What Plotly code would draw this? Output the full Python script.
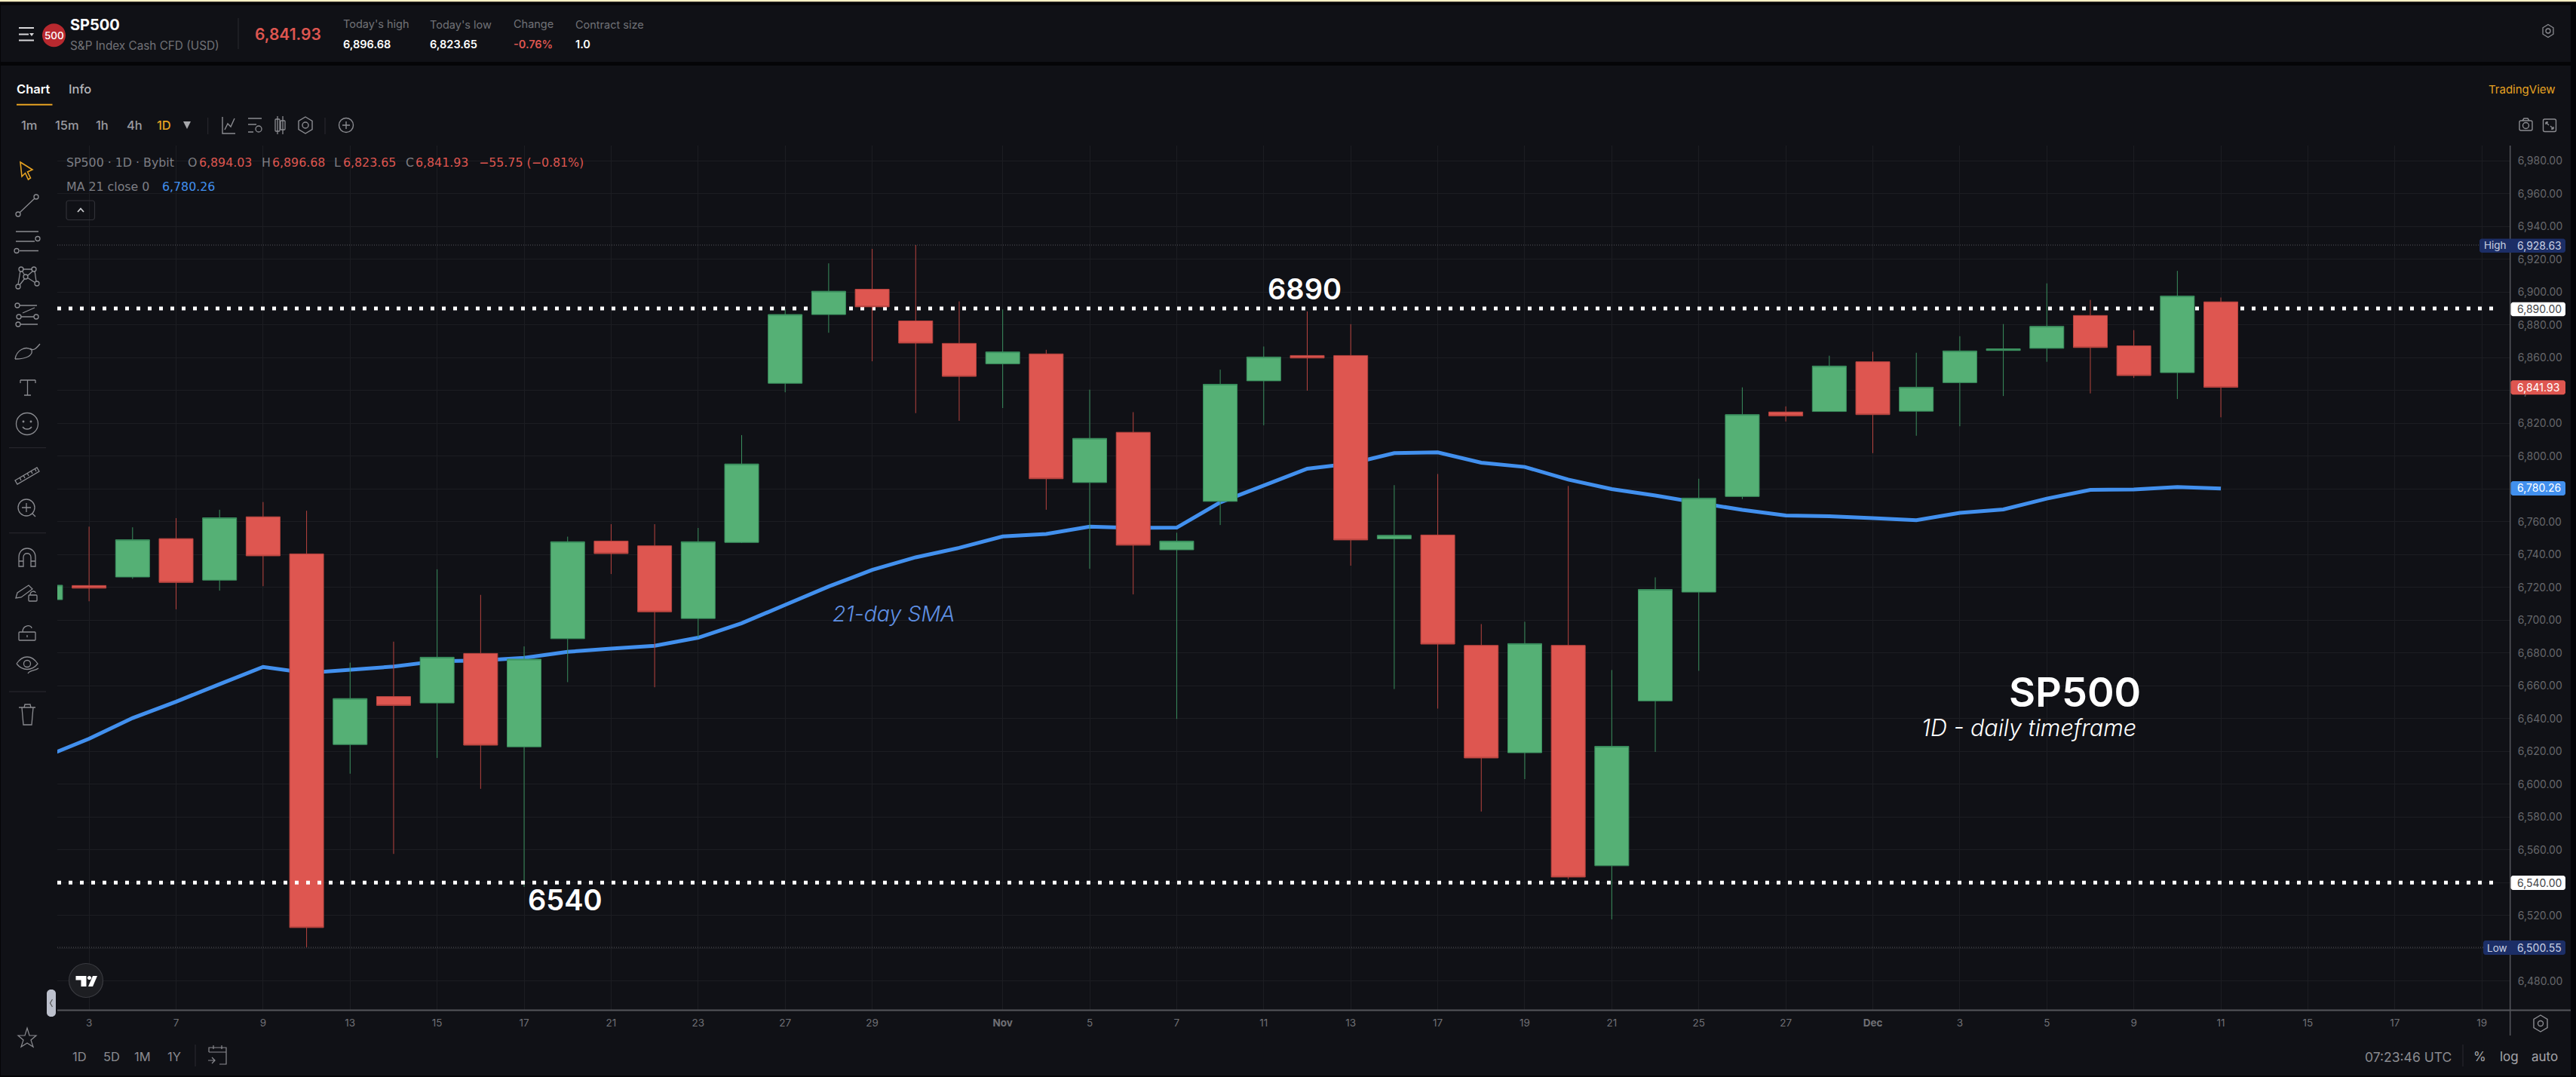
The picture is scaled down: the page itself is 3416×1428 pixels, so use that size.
import re
import plotly.graph_objects as go

# ---------- data ----------
bar_index = [i for i in range(51)]
opens = [6712.5, 6721.1, 6726.3, 6749.7, 6724.4, 6763.0, 6740.4, 6624.2, 6653.4, 6649.5, 6679.7, 6622.8, 6688.7,
         6748.2, 6745.3, 6701.0, 6747.4, 6844.4, 6886.3, 6901.7, 6882.4, 6868.7, 6856.3, 6862.3, 6783.9, 6814.5,
         6742.9, 6772.4, 6845.9, 6861.3, 6861.3, 6749.6, 6751.9, 6684.6, 6619.2, 6684.6, 6550.3, 6650.8, 6717.1,
         6775.4, 6826.9, 6827.2, 6857.5, 6827.4, 6844.8, 6864.4, 6865.7, 6885.7, 6867.2, 6850.9, 6894.03]
highs = [6723.0, 6757.0, 6756.6, 6762.2, 6767.3, 6772.0, 6766.7, 6674.1, 6686.9, 6731.0, 6715.4, 6684.0, 6750.9,
         6758.5, 6758.5, 6756.2, 6812.8, 6889.5, 6917.5, 6926.3, 6928.63, 6894.3, 6889.4, 6864.8, 6840.5, 6826.8,
         6753.3, 6852.7, 6866.8, 6888.2, 6880.4, 6782.3, 6789.1, 6697.6, 6699.0, 6781.8, 6669.6, 6726.1, 6786.2,
         6841.9, 6830.3, 6861.2, 6863.6, 6863.0, 6873.1, 6880.5, 6905.3, 6895.2, 6876.8, 6912.9, 6896.68]
lows = [6711.0, 6711.5, 6725.2, 6706.6, 6718.0, 6720.7, 6500.55, 6606.4, 6557.5, 6616.0, 6597.2, 6537.4, 6662.2,
        6728.1, 6659.1, 6689.3, 6747.0, 6838.9, 6875.2, 6857.8, 6826.2, 6821.5, 6829.3, 6767.3, 6731.3, 6715.7,
        6639.8, 6758.0, 6818.8, 6839.9, 6733.2, 6658.0, 6646.1, 6583.3, 6603.1, 6542.1, 6517.6, 6619.7, 6669.1,
        6773.8, 6821.1, 6827.0, 6801.8, 6812.4, 6818.2, 6836.6, 6857.5, 6838.2, 6847.7, 6834.8, 6823.65]
closes = [6721.3, 6719.5, 6749.0, 6723.0, 6762.4, 6739.2, 6512.6, 6652.2, 6648.0, 6677.4, 6623.8, 6676.2, 6747.8,
          6740.6, 6705.1, 6747.8, 6795.2, 6886.3, 6900.5, 6891.0, 6868.9, 6848.6, 6863.5, 6786.2, 6810.8, 6745.7,
          6748.2, 6843.8, 6860.4, 6859.8, 6748.9, 6751.7, 6685.4, 6616.0, 6685.7, 6543.4, 6623.1, 6718.7, 6774.4,
          6825.3, 6824.5, 6854.9, 6825.3, 6842.0, 6864.1, 6865.4, 6879.1, 6866.2, 6849.1, 6897.6, 6841.93]
sma21 = [6616.9, 6627.7, 6640.3, 6650.3, 6661.0, 6671.5, 6667.8, 6670.0, 6671.7, 6675.0, 6675.4, 6677.0, 6680.7,
         6682.7, 6684.4, 6689.3, 6698.1, 6709.3, 6720.5, 6730.6, 6738.3, 6744.1, 6751.0, 6752.5, 6757.0, 6756.2,
         6756.4, 6771.8, 6782.1, 6792.3, 6795.4, 6801.8, 6802.3, 6796.0, 6793.4, 6785.7, 6779.9, 6776.0, 6771.5,
         6767.2, 6763.8, 6763.3, 6762.2, 6760.9, 6765.4, 6767.5, 6774.1, 6779.4, 6779.7, 6781.2, 6780.26]
tick_pos = [1, 3, 5, 7, 9, 11, 13, 15, 17, 19, 22, 24, 26, 28, 30, 32, 34, 36, 38, 40, 42, 44, 46, 48, 50, 52, 54, 56]
tick_text = ["3", "7", "9", "13", "15", "17", "21", "23", "27", "29", "<b>Nov</b>", "5", "7", "11", "13", "17", "19",
             "21", "25", "27", "<b>Dec</b>", "3", "5", "9", "11", "15", "17", "19"]
price_ticks = [6480, 6500, 6520, 6540, 6560, 6580, 6600, 6620, 6640, 6660, 6680, 6700, 6720, 6740, 6760, 6780, 6800,
               6820, 6840, 6860, 6880, 6900, 6920, 6940, 6960, 6980]
level_upper = 6890
level_lower = 6540
session_high = 6928.63
session_low = 6500.55

# ---------- page geometry ----------
W, H = 3416, 1428
PL, PR, PT, PB = 76, 3328.7, 193, 1339.5
XR = [0.27, 56.65]
YR = [6462.2, 6989.3]

BG = "#101116"
GRID = "#1c1d22"
RED = "#DE5650"
GREEN = "#55B075"
BLUE = "#4290EE"
GRAY = "#7d7e84"
ICON = "#8b8c91"
FONT = "Inter"
LEGEND_FONT = "DejaVu Sans"


def fx(x):
    return x / W


def fy(y):
    return 1 - y / H


def conv(path):
    """pixel path (M/L/C/Z, absolute) -> paper path"""
    out = []
    for cmd, body in re.findall(r"([MLCZ])([^MLCZ]*)", path):
        nums = [float(n) for n in body.split()]
        pairs = [f"{fx(nums[i]):.6f},{fy(nums[i + 1]):.6f}" for i in range(0, len(nums), 2)]
        out.append(cmd + " ".join(pairs))
    return " ".join(out)


def circ(cx, cy, rx, ry=None):
    ry = ry or rx
    k = 0.5523
    return (f"M{cx - rx} {cy} C{cx - rx} {cy - k * ry} {cx - k * rx} {cy - ry} {cx} {cy - ry} "
            f"C{cx + k * rx} {cy - ry} {cx + rx} {cy - k * ry} {cx + rx} {cy} "
            f"C{cx + rx} {cy + k * ry} {cx + k * rx} {cy + ry} {cx} {cy + ry} "
            f"C{cx - k * rx} {cy + ry} {cx - rx} {cy + k * ry} {cx - rx} {cy} Z ")


def rrect(x0, y0, x1, y1, r=3):
    return (f"M{x0 + r} {y0} L{x1 - r} {y0} C{x1 - r / 2} {y0} {x1} {y0 + r / 2} {x1} {y0 + r} "
            f"L{x1} {y1 - r} C{x1} {y1 - r / 2} {x1 - r / 2} {y1} {x1 - r} {y1} "
            f"L{x0 + r} {y1} C{x0 + r / 2} {y1} {x0} {y1 - r / 2} {x0} {y1 - r} "
            f"L{x0} {y0 + r} C{x0} {y0 + r / 2} {x0 + r / 2} {y0} {x0 + r} {y0} Z ")


def hexa(cx, cy, r):
    return (f"M{cx} {cy - r} L{cx + r * .82} {cy - r * .5} L{cx + r * .82} {cy + r * .5} L{cx} {cy + r} "
            f"L{cx - r * .82} {cy + r * .5} L{cx - r * .82} {cy - r * .5} Z ")


shapes = []


def fill(path, color, layer="above", line=None, lw=0):
    shapes.append(dict(type="path", path=conv(path), xref="paper", yref="paper", fillcolor=color, layer=layer,
                       line=dict(color=line or color, width=lw)))


def stroke(path, color=ICON, lw=1.3):
    shapes.append(dict(type="path", path=conv(path), xref="paper", yref="paper", layer="above",
                       line=dict(color=color, width=lw)))


def rect(x0, y0, x1, y1, color, layer="below"):
    shapes.append(dict(type="rect", xref="paper", yref="paper", x0=fx(x0), x1=fx(x1), y0=fy(y0), y1=fy(y1),
                       fillcolor=color, line=dict(width=0), layer=layer))


def seg(x0, y0, x1, y1, color, lw=1.0):
    shapes.append(dict(type="line", xref="paper", yref="paper", x0=fx(x0), x1=fx(x1), y0=fy(y0), y1=fy(y1),
                       line=dict(color=color, width=lw), layer="above"))


annos = []


def txt(x, y, s, size=15, color=GRAY, anchor="left", weight=400, italic=False, family=FONT):
    annos.append(dict(x=fx(x), y=fy(y), xref="paper", yref="paper", text=s, showarrow=False, xanchor=anchor,
                      yanchor="middle", borderpad=0, borderwidth=0,
                      font=dict(size=size, color=color, family=family, weight=weight,
                                style="italic" if italic else "normal")))


# ---------- panels ----------
rect(0, 0, W, 2.3, "#FDF0C4", "above")
rect(1, 7, 3409, 82, BG)
rect(1, 87, 3409, 1426, BG)

# header
stroke("M25 37 L45 37 M25 45.5 L38 45.5 M25 53.5 L45 53.5", "#d8d8da", 2)
fill("M39 44 L45 44 L42 48 Z", "#d8d8da")
fill(circ(71.5, 46.7, 15.5), "#B8292F")
txt(71.5, 46.7, "500", 13.5, "#ffffff", "center", 500)
txt(93, 33, "SP500", 20, "#ffffff", weight=700)
txt(93, 61, "S&P Index Cash CFD (USD)", 15.3, "#707177")
seg(316, 24, 316, 65, "#26272c", 1.2)
txt(338, 45, "6,841.93", 21, RED, weight=600)
for x, label, value, col in [(454.6, "Today's high", "6,896.68", "#ffffff"), (570.3, "Today's low", "6,823.65", "#ffffff"),
                             (681.2, "Change", "-0.76%", RED), (762.5, "Contract size", "1.0", "#ffffff")]:
    txt(x, 32, label, 14.5, "#707177")
    txt(x, 58.5, value, 14.5, col, weight=600)
stroke(hexa(3379, 41, 8.5) + circ(3379, 41, 3), ICON, 1.3)

# tabs
txt(22, 117.5, "Chart", 16.5, "#ffffff", weight=600)
txt(91, 117.5, "Info", 16.5, "#b5b6ba", weight=500)
rect(22, 137.8, 69.5, 139.8, "#E6A222", "above")
txt(3389, 118, "TradingView", 15, "#E6A222", "right")

# timeframe row
for x, s, col in [(28, "1m", "#9a9ba0"), (73, "15m", "#9a9ba0"), (127, "1h", "#9a9ba0"), (168, "4h", "#9a9ba0"),
                  (208, "1D", "#E6A222")]:
    txt(x, 166, s, 16.5, col, weight=500)
fill("M243 161 L253 161 L248 171 Z", "#a6a7ab")
seg(275.7, 156, 275.7, 178, "#2a2b30", 1)
seg(431, 156, 431, 178, "#2a2b30", 1)
stroke("M295 155 L295 177 L312 177 M298 172 L302 164 L306 168 L311 157", ICON, 1.4)
stroke("M329 157 L347 157 M329 165 L340 165 M329 175 L336 175 " + circ(343, 171, 4), ICON, 1.3)
stroke(rrect(365, 158, 371, 174, 1) + "M368 154 L368 178 M375 154 L375 178 " + rrect(372, 160, 378, 172, 1), ICON, 1.3)
stroke(hexa(405, 166, 11) + circ(405, 166, 4), ICON, 1.4)
stroke(circ(459, 166, 9.5) + "M454 166 L464 166 M459 161 L459 171", ICON, 1.4)
stroke(rrect(3341, 160, 3358, 173, 2) + circ(3349.5, 166.5, 4) + "M3345 160 L3347 157 L3352 157 L3354 160", ICON, 1.4)
stroke(rrect(3372.5, 158, 3389.5, 174.5, 2) + "M3376 162 L3380 166 M3376 162 L3379 162 M3376 162 L3376 165 "
       "M3386 171 L3382 167 M3386 171 L3383 171 M3386 171 L3386 168", ICON, 1.4)

# legend
LG = 15.8
txt(87.7, 215, "SP500 · 1D · Bybit", LG, GRAY, family=LEGEND_FONT)
for x, s in [(249, "O"), (346.5, "H"), (443.3, "L"), (538, "C")]:
    txt(x, 215, s, LG, GRAY, family=LEGEND_FONT)
for x, s in [(263.8, "6,894.03"), (360.6, "6,896.68"), (454.6, "6,823.65"), (551.4, "6,841.93"),
             (634.9, "−55.75 (−0.81%)")]:
    txt(x, 215, s, LG, RED, family=LEGEND_FONT)
txt(87.7, 247, "MA 21 close 0", LG, GRAY, family=LEGEND_FONT)
txt(214.7, 247, "6,780.26", LG, BLUE, family=LEGEND_FONT)
stroke(rrect(88, 266, 125.5, 291.5, 3), "#303137", 1.2)
stroke("M103 281 L107 276.5 L111 281", "#c8c9cc", 1.8)

# left toolbar
fill("M27 215 L43 225 L36.5 228 L40.5 236 L37.5 238 L33.5 229.5 L29 234 Z", BG, line="#E6A222", lw=1.6)
stroke(circ(24, 284, 3) + circ(48, 261, 3) + "M26 282 L46 263")
stroke("M21 307 L51 307 M21 320 L46 320 M26 332.5 L51 332.5 " + circ(50, 316.5, 3) + circ(22, 332.5, 3))
stroke(circ(28, 357, 3) + circ(45, 357, 3) + circ(34, 367, 3) + circ(24, 380, 3) + circ(49, 376, 3) +
       "M29 359 L33 365 M30 357 L43 357 M36 366 L44 359 M36 368 L47 375 M26 378 L33 369 M46 359 L48 373 M27 359 L24 377")
stroke(circ(23, 405, 3) + circ(25, 420, 3) + circ(24, 430, 3) + circ(48, 420, 3) + "M26 405 L49 405 M28 420 L45 420 "
       "M27 430 L50 430 M30 415 L46 408")
stroke("M20 476 C22 464 34 458 42 464 C44 472 34 476 20 476 M40 462 C44 466 48 462 53 456")
stroke("M27 504 L47 504 M36.5 504 L36.5 524 M27 504 L27 508 M47 504 L47 508 M32 524 L41 524")
stroke(circ(36, 562, 14.5) + circ(31, 559, .8) + circ(41, 559, .8) + "M30 566 C33 570 39 570 42 566")
seg(12, 593.7, 61, 593.7, "#2a2b30", 1)
stroke("M20 637 L49 620 L52 625 L23 642 Z M26 633 L28 637 M31 630 L33 634 M36 627 L38 631 M41 624 L43 628 M46 621 L48 625")
stroke(circ(35, 673, 11) + "M29 673 L41 673 M35 667 L35 679 M43 681 L47 685")
seg(12, 706.7, 61, 706.7, "#2a2b30", 1)
stroke("M25 751 L25 739 C25 723 47 723 47 739 L47 751 L41 751 L41 739 C41 732 31 732 31 739 L31 751 Z M25 744 L31 744 M41 744 L47 744")
stroke("M21 793 L23 786 L38 776 L43 781 L28 792 Z " + rrect(38, 789, 49, 797, 1) + "M40 789 C40 783 47 783 47 786")
stroke(rrect(25, 838, 47, 849, 1) + "M30 838 C30 828 42 828 42 833 M36 842 L36 845")
stroke("M22 880 C30 868 42 868 50 880 C42 890 30 890 22 880 " + circ(36, 880, 4.5) + "M37 893 C40 888 46 890 51 886")
seg(12, 917, 61, 917, "#2a2b30", 1)
stroke("M25 938 L47 938 M29 938 L31 961 L42 961 L44 938 M32 938 L33 934 L40 934 L41 938")

# toolbar bottom
stroke("M36 1363 L39 1373 L48 1373 L41 1379 L44 1388 L36 1383 L28 1388 L31 1379 L24 1373 L33 1373 Z", ICON, 1.2)
fill(rrect(62, 1312, 74, 1348, 5), "#BCC0CC")
stroke("M69.5 1325 L66.5 1330 L69.5 1335", "#555", 1.2)
fill(circ(114, 1300, 22.5), "#1d1e22", line="#3a3b40", lw=1.2)
fill("M100.5 1294 L114.5 1294 L114.5 1308 L107.5 1308 L107.5 1299.5 L100.5 1299.5 Z", "#ffffff")
fill(circ(118.5, 1296.5, 2.6), "#ffffff")
fill("M117 1308 L123 1294 L129 1294 L123 1308 Z", "#ffffff")

# bottom bar
for x, s in [(96, "1D"), (137, "5D"), (178, "1M"), (222, "1Y")]:
    txt(x, 1401, s, 16.5, "#8a8b90")
seg(259, 1385, 259, 1414, "#2a2b30", 1)
stroke("M277 1395 L277 1389 L300 1389 L300 1411 L291 1411 M277 1395 L300 1395 M283 1386 L283 1391 M294 1386 L294 1391 "
       "M276 1406 L285 1406 M281 1402 L285 1406 L281 1410", ICON, 1.2)
txt(3251, 1401, "07:23:46 UTC", 17.5, "#8a8b90", "right")
seg(3266, 1385, 3266, 1414, "#2a2b30", 1)
txt(3280, 1401, "%", 17, "#a4a5a9")
txt(3315, 1401, "log", 17, "#a4a5a9")
txt(3357, 1401, "auto", 17, "#a4a5a9")
stroke(hexa(3369, 1357, 11) + circ(3369, 1357, 3.5), ICON, 1.4)

# axis lines
seg(PL, PB, 3409, PB, "#55565b", 1.8)
seg(PR, PT, PR, 1373, "#55565b", 1.5)

# price tags
TAG_X0, TAG_X1 = 3329.5, 3402
TXT_X = 3337.7


def tag(y0, y1, color, label, tcolor, x0=TAG_X0):
    fill(rrect(x0, y0, TAG_X1, y1, 3), color)
    txt(TXT_X, (y0 + y1) / 2 - .5, label, 14, tcolor)


tag(316.5, 335, "#1C2E66", "6,928.63", "#c9d0e2", 3288)
txt(3293.5, 325, "High", 13.5, "#c9d0e2")
tag(400.7, 419.3, "#ffffff", "6,890.00", "#444548")
tag(504.3, 523.3, RED, "6,841.93", "#ffffff")
tag(638, 657, BLUE, "6,780.26", "#ffffff")
tag(1161, 1180, "#ffffff", "6,540.00", "#444548")
tag(1247, 1266, "#1C2E66", "6,500.55", "#c9d0e2", 3293)
txt(3298, 1256.5, "Low", 13.5, "#c9d0e2")

# chart callouts
txt(1730.5, 383.5, "6890", 38, "#ffffff", "center", 600)
txt(749, 1192.5, "6540", 38, "#ffffff", "center", 600)
txt(1104, 813.5, "21-day SMA", 28.5, "#5F90E4", italic=True, weight=300)
txt(2751, 917, "SP500", 54, "#ffffff", "center", 600)
txt(2690, 964, "1D - daily timeframe", 30.5, "#ffffff", "center", italic=True, weight=300)

# ---------- traces ----------
fig = go.Figure()
level_x = [XR[0], 56.4]
fig.add_trace(go.Scatter(x=XR, y=[session_high, session_high], mode="lines", hoverinfo="skip", showlegend=False,
                         xaxis="x", yaxis="y", line=dict(color="#56575c", width=1, dash="1px,2px")))
fig.add_trace(go.Scatter(x=XR, y=[session_low, session_low], mode="lines", hoverinfo="skip", showlegend=False,
                         xaxis="x", yaxis="y", line=dict(color="#56575c", width=1, dash="1px,2px")))
fig.add_trace(go.Scatter(x=level_x, y=[level_upper, level_upper], mode="lines", hoverinfo="skip", showlegend=False,
                         xaxis="x", yaxis="y", line=dict(color="#ffffff", width=5, dash="5px,10px")))
fig.add_trace(go.Scatter(x=bar_index, y=sma21, mode="lines", hoverinfo="skip", showlegend=False,
                         xaxis="x", yaxis="y", line=dict(color=BLUE, width=5)))
fig.add_trace(go.Candlestick(x=bar_index, open=opens, high=highs, low=lows, close=closes, showlegend=False,
                             xaxis="x2", yaxis="y2", whiskerwidth=0,
                             increasing=dict(fillcolor=GREEN, line=dict(color="#3A8F5E", width=1)),
                             decreasing=dict(fillcolor=RED, line=dict(color="#B8443F", width=1))))
fig.add_trace(go.Scatter(x=level_x, y=[level_lower, level_lower], mode="lines", hoverinfo="skip", showlegend=False,
                         xaxis="x2", yaxis="y2", line=dict(color="#ffffff", width=5, dash="5px,10px")))

dom_x = [fx(PL), fx(PR)]
dom_y = [fy(PB), fy(PT)]
fig.update_layout(
    width=W, height=H, margin=dict(l=0, r=0, t=0, b=0, pad=0), autosize=False,
    paper_bgcolor="#050507", plot_bgcolor=BG, showlegend=False, boxgap=0.22, boxgroupgap=0,
    font=dict(family=FONT, color="#77787c"),
    xaxis=dict(domain=dom_x, range=XR, tickmode="array", tickvals=tick_pos, ticktext=tick_text, showgrid=True,
               gridcolor=GRID, gridwidth=1.2, zeroline=False, showline=False, ticks="", anchor="y", fixedrange=True,
               tickfont=dict(size=13.5, color="#6f7075", family=FONT), ticklabelstandoff=7,
               rangeslider=dict(visible=False)),
    yaxis=dict(domain=dom_y, range=YR, side="right", tickmode="array", tickvals=price_ticks, tickformat=",.2f",
               showgrid=True, gridcolor=GRID, gridwidth=1.2, zeroline=False, showline=False, ticks="", anchor="x",
               fixedrange=True, tickfont=dict(size=14, color="#66676b", family=FONT), ticklabelstandoff=9),
    xaxis2=dict(domain=dom_x, range=XR, overlaying="x", visible=False, anchor="y2", fixedrange=True,
                rangeslider=dict(visible=False)),
    yaxis2=dict(domain=dom_y, range=YR, overlaying="y", visible=False, anchor="x2", fixedrange=True),
    shapes=shapes, annotations=annos,
)

fig.write_html("out.html", config={"displayModeBar": False},
               post_script="document.body.style.margin='0';document.documentElement.style.background='#050507';")
